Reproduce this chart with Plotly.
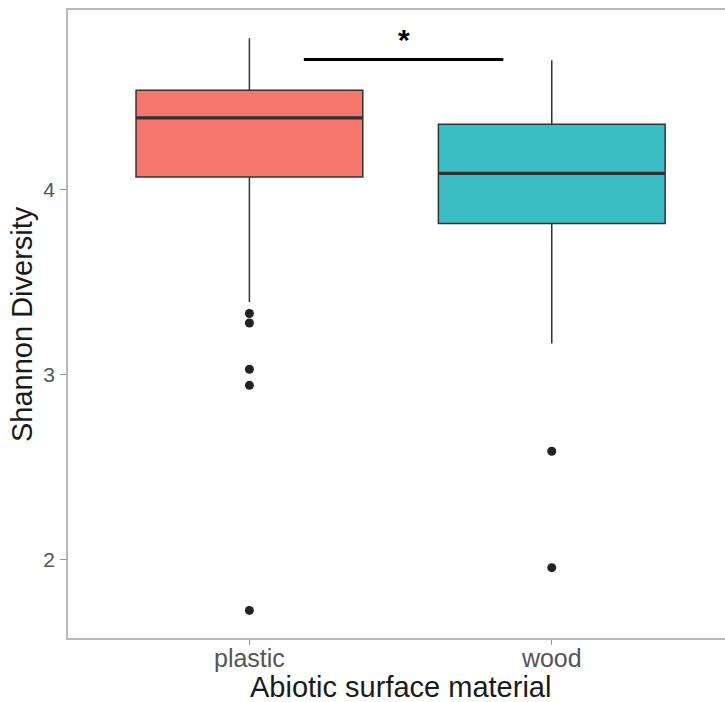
import plotly.graph_objects as go

# ---- data ----
categories = ["plastic", "wood"]
q1 = [4.066, 3.815]
median = [4.385, 4.085]
q3 = [4.535, 4.351]
lower_fence = [3.391, 3.166]
upper_fence = [4.815, 4.697]
outliers_plastic = [3.328, 3.277, 3.027, 2.94, 1.724]
outliers_wood = [2.584, 1.955]
fill_colors = ["#F5766D", "#3BBEC3"]
y_ticks = [2, 3, 4]

x_title = "Abiotic surface material"
y_title = "Shannon Diversity"

# significance annotation (category-index x, data y)
sig_x = [0.18, 0.84]
sig_y = 4.70
sig_label = "*"

fig = go.Figure()

for i, cat in enumerate(categories):
    fig.add_trace(go.Box(
        x=[cat], q1=[q1[i]], median=[median[i]], q3=[q3[i]],
        lowerfence=[lower_fence[i]], upperfence=[upper_fence[i]],
        fillcolor=fill_colors[i], line=dict(color="#333333", width=1.5),
        width=0.75, whiskerwidth=0, boxpoints=False, showlegend=False,
        hoverinfo="skip",
    ))
    # thicker median line (zero-height box at the median)
    fig.add_trace(go.Box(
        x=[cat], q1=[median[i]], median=[median[i]], q3=[median[i]],
        lowerfence=[median[i]], upperfence=[median[i]],
        fillcolor="rgba(0,0,0,0)", line=dict(color="#333333", width=3.2),
        width=0.75, whiskerwidth=0, boxpoints=False, showlegend=False,
        hoverinfo="skip",
    ))

fig.add_trace(go.Scatter(
    x=[categories[0]] * len(outliers_plastic) + [categories[1]] * len(outliers_wood),
    y=outliers_plastic + outliers_wood,
    mode="markers", marker=dict(color="#222222", size=9),
    showlegend=False, hoverinfo="skip",
))

fig.add_shape(type="line", xref="x", yref="y",
              x0=sig_x[0], x1=sig_x[1], y0=sig_y, y1=sig_y,
              line=dict(color="black", width=3))
fig.add_annotation(x=(sig_x[0] + sig_x[1]) / 2, y=sig_y, xref="x", yref="y",
                   text="<b>" + sig_label + "</b>", showarrow=False,
                   yanchor="bottom", yshift=2,
                   font=dict(size=30, color="black", family="Liberation Sans"))

# axis titles
fig.add_annotation(x=0.5, xref="x", y=0, yref="paper", yanchor="top", yshift=-31,
                   text=x_title, showarrow=False,
                   font=dict(size=29, color="#1a1a1a", family="Liberation Sans"))
fig.add_annotation(x=0, xref="paper", xanchor="right", xshift=-28,
                   y=0.5, yref="paper", textangle=-90,
                   text=y_title, showarrow=False,
                   font=dict(size=29, color="#1a1a1a", family="Liberation Sans"))

axis_line = "#b8b8b8"
fig.update_layout(
    width=725, height=702,
    margin=dict(l=68, r=0, t=10, b=64),
    paper_bgcolor="white", plot_bgcolor="white",
    boxmode="overlay",
    font=dict(family="Liberation Sans", color="#1a1a1a"),
    xaxis=dict(
        type="category", categoryorder="array", categoryarray=categories,
        range=[-0.6, 1.573], automargin=False,
        showline=True, linecolor=axis_line, linewidth=1.5, mirror=True,
        ticks="outside", ticklen=5, tickcolor="#999999", tickwidth=1.2,
        ticklabelstandoff=-8,
        tickfont=dict(size=25, color="#555555"),
        showgrid=False, zeroline=False,
    ),
    yaxis=dict(
        range=[1.575, 4.968], tickvals=y_ticks, automargin=False,
        showline=True, linecolor=axis_line, linewidth=1.5, mirror=False,
        ticks="outside", ticklen=6, tickcolor="#999999", tickwidth=1.2,
        ticklabelstandoff=1,
        tickfont=dict(size=21, color="#555555"),
        showgrid=False, zeroline=False,
    ),
)

fig.write_html("out.html", config={"displayModeBar": False},
               post_script="document.body.style.margin='0';document.body.style.overflow='hidden';")
